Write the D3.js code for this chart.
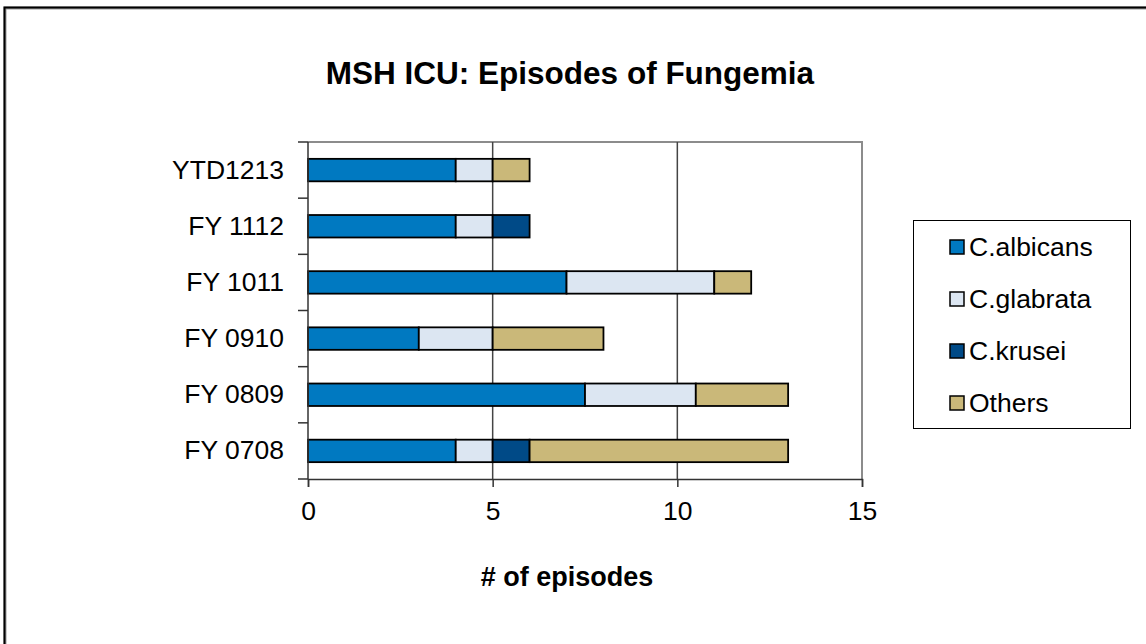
<!DOCTYPE html>
<html><head><meta charset="utf-8">
<script src="https://cdn.jsdelivr.net/npm/d3@7"></script>
<style>body{margin:0;background:#fff}svg{display:block;font-family:"Liberation Sans",Arial,sans-serif}</style>
</head><body>
<svg id="c" width="1146" height="644"></svg>
<script>
const categories = ["YTD1213","FY 1112","FY 1011","FY 0910","FY 0809","FY 0708"];
const seriesNames = ["C.albicans","C.glabrata","C.krusei","Others"];
const albicans = [4, 4, 7, 3, 7.5, 4];
const glabrata = [1, 1, 4, 2, 3, 1];
const krusei   = [0, 1, 0, 0, 0, 1];
const others   = [1, 0, 1, 3, 2.5, 7];
const xTicks = [0, 5, 10, 15];
const colors = ["#0079C1","#DCE6F2","#004A87","#CAB879"];

const svg = d3.select("#c");
const W = 1146, H = 644;
// outer frame
svg.append("path").attr("d",`M5,${H} V8 H${W}`).attr("fill","none").attr("stroke","#999").attr("stroke-width",3);
svg.append("path").attr("d",`M4.5,${H} V7.5 H${W}`).attr("fill","none").attr("stroke","#000").attr("stroke-width",2);

const x = d3.scaleLinear().domain([0,15]).range([308,862]);
const y = d3.scaleBand().domain(categories).range([142,479]).paddingInner(0.6).paddingOuter(0.3);

// plot border top/right
svg.append("path").attr("d",`M${x(0)},142 H${x(15)} V479`).attr("fill","none").attr("stroke","#8c8c8c").attr("stroke-width",2);
// grid
svg.selectAll(".grid").data(xTicks.filter(d=>d>0&&d<15)).join("line")
  .attr("x1",d=>x(d)).attr("x2",d=>x(d)).attr("y1",142).attr("y2",479)
  .attr("stroke","#444").attr("stroke-width",1.5);

const rows = categories.map((c,i)=>({cat:c, vals:[albicans[i],glabrata[i],krusei[i],others[i]]}));
const stack = d3.stack().keys([0,1,2,3]).value((d,k)=>d.vals[k]);
const stacked = stack(rows);
stacked.forEach((layer,k)=>{
  svg.append("g").selectAll("rect").data(layer.filter(d=>d[1]-d[0]>0)).join("rect")
    .attr("x",d=>x(d[0])).attr("width",d=>x(d[1])-x(d[0]))
    .attr("y",d=>y(d.data.cat)).attr("height",y.bandwidth())
    .attr("fill",colors[k]).attr("stroke","#000").attr("stroke-width",1.8);
});

// axes
const xa = svg.append("g").attr("transform","translate(0,479)")
  .call(d3.axisBottom(x).tickValues(xTicks).tickSize(8).tickPadding(14).tickFormat(d3.format("d")));
xa.select(".domain").attr("stroke","#333").attr("stroke-width",1.5);
xa.selectAll(".tick line").attr("stroke","#333").attr("stroke-width",1.5);
xa.selectAll(".tick text").attr("font-size",26.5).attr("fill","#000").attr("font-family","Liberation Sans, Arial, sans-serif");

const ya = svg.append("g").attr("transform",`translate(${x(0)},0)`)
  .call(d3.axisLeft(y).tickSize(0).tickPadding(24));
ya.select(".domain").remove();
ya.selectAll(".tick text").attr("font-size",26.5).attr("fill","#000").attr("font-family","Liberation Sans, Arial, sans-serif");
// boundary ticks
const bounds = d3.range(categories.length+1).map(i=>142 + i*y.step());
svg.append("g").selectAll("line").data(bounds).join("line")
  .attr("x1",298).attr("x2",x(0)).attr("y1",d=>d).attr("y2",d=>d)
  .attr("stroke","#333").attr("stroke-width",1.5);
svg.append("line").attr("x1",x(0)).attr("x2",x(0)).attr("y1",142).attr("y2",479)
  .attr("stroke","#333").attr("stroke-width",1.5);

// title
svg.append("text").attr("x",570).attr("y",84).attr("text-anchor","middle")
  .attr("font-size",31.5).attr("font-weight","bold").text("MSH ICU: Episodes of Fungemia");
svg.append("text").attr("x",567).attr("y",586).attr("text-anchor","middle")
  .attr("font-size",27).attr("font-weight","bold").text("# of episodes");

// legend
svg.append("rect").attr("x",913.5).attr("y",220.5).attr("width",217).attr("height",208)
  .attr("fill","#fff").attr("stroke","#000").attr("stroke-width",1);
const lg = svg.append("g").selectAll("g").data(seriesNames).join("g")
  .attr("transform",(d,i)=>`translate(950,${247 + i*52})`);
lg.append("rect").attr("x",0).attr("y",-7).attr("width",14).attr("height",14)
  .attr("fill",(d,i)=>colors[i]).attr("stroke","#000").attr("stroke-width",1.5);
lg.append("text").attr("x",19).attr("y",9).attr("font-size",26.5).text(d=>d);
</script>
</body></html>
